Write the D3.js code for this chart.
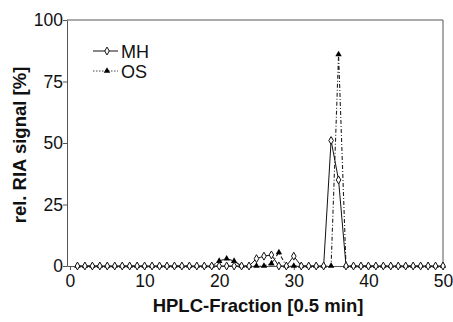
<!DOCTYPE html>
<html>
<head>
<meta charset="utf-8">
<script src="https://cdn.jsdelivr.net/npm/d3@7"></script>
<style>
  body { margin: 0; background: #fff; }
  svg { font-family: "Liberation Sans", Arial, sans-serif; }
</style>
</head>
<body>
<div id="chart"></div>
<script>
// HPLC fractions (0.5 min each)
const fractions = [1, 2, 3, 4, 5, 6, 7, 8, 9, 10, 11, 12, 13, 14, 15, 16, 17, 18, 19, 20,
  21, 22, 23, 24, 25, 26, 27, 28, 29, 30, 31, 32, 33, 34, 35, 36, 37, 38, 39, 40,
  41, 42, 43, 44, 45, 46, 47, 48, 49, 50];
const mhValues = [0, 0, 0, 0, 0, 0, 0, 0, 0, 0, 0, 0, 0, 0, 0, 0, 0, 0, 0, 0,
  0, 0, 0, 0, 3, 4, 4.5, 0, 0, 4, 0, 0, 0, 0, 51, 35, 0, 0, 0, 0,
  0, 0, 0, 0, 0, 0, 0, 0, 0, 0];
const osValues = [0, 0, 0, 0, 0, 0, 0, 0, 0, 0, 0, 0, 0, 0, 0, 0, 0, 0, 0, 2,
  3, 2, 0, 0, 0, 0, 1, 5.5, 0, 0, 0, 0, 0, 0, 0, 86, 0, 0, 0, 0,
  0, 0, 0, 0, 0, 0, 0, 0, 0, 0];
const xTicks = [0, 10, 20, 30, 40, 50];
const yTicks = [0, 25, 50, 75, 100];

const width = 453, height = 322;
const margin = { top: 20, right: 10, bottom: 56, left: 67 };

const svg = d3.select('#chart').append('svg')
  .attr('width', width)
  .attr('height', height);

const x = d3.scaleLinear().domain([-0.4, 50]).range([margin.left, 443]);
const y = d3.scaleLinear().domain([0, 100]).range([266, margin.top]);

// frame (top + right)
svg.append('path')
  .attr('d', `M${margin.left},${y(100)}H${x(50)}V${y(0)}`)
  .attr('fill', 'none')
  .attr('stroke', '#555')
  .attr('stroke-width', 1);

const xAxis = svg.append('g')
  .attr('transform', `translate(0, ${y(0)})`)
  .call(d3.axisBottom(x).tickValues(xTicks).tickSize(4).tickSizeOuter(0));
const yAxis = svg.append('g')
  .attr('transform', `translate(${margin.left}, 0)`)
  .call(d3.axisLeft(y).tickValues(yTicks).tickSize(4).tickSizeOuter(0));

[xAxis, yAxis].forEach(a => {
  a.select('.domain').attr('stroke', '#555');
  a.selectAll('.tick line').attr('stroke', '#555');
  a.selectAll('.tick text')
    .attr('fill', '#111')
    .style('font-size', '17.5px')
    .style('font-family', '"Liberation Sans", Arial, sans-serif');
});
xAxis.selectAll('.tick text').attr('dy', '0.9em').attr('y', 5);
yAxis.selectAll('.tick text').attr('x', -4);

const mh = fractions.map((f, i) => [f, mhValues[i]]);
const os = fractions.map((f, i) => [f, osValues[i]]);
const line = d3.line().x(d => x(d[0])).y(d => y(d[1]));

// OS series (dash-dot, filled triangles)
svg.append('path')
  .datum(os)
  .attr('d', line)
  .attr('fill', 'none')
  .attr('stroke', '#222')
  .attr('stroke-width', 1.1)
  .attr('stroke-dasharray', '4,2,1,2');

const tri = d3.symbol().type(d3.symbolTriangle).size(18);
svg.selectAll('.os')
  .data(os)
  .enter().append('path')
  .attr('class', 'os')
  .attr('d', tri)
  .attr('transform', d => `translate(${x(d[0])},${y(d[1])})`)
  .attr('fill', '#000');

// MH series (solid, open diamonds)
svg.append('path')
  .datum(mh)
  .attr('d', line)
  .attr('fill', 'none')
  .attr('stroke', '#111')
  .attr('stroke-width', 1);

const dia = d3.symbol().type(d3.symbolDiamond).size(18);
svg.selectAll('.mh')
  .data(mh)
  .enter().append('path')
  .attr('class', 'mh')
  .attr('d', dia)
  .attr('transform', d => `translate(${x(d[0])},${y(d[1])})`)
  .attr('fill', '#fff')
  .attr('stroke', '#111')
  .attr('stroke-width', 1);

// legend
const legend = svg.append('g').attr('transform', 'translate(93, 51)');
legend.append('line').attr('x1', 0).attr('x2', 25).attr('y1', 0).attr('y2', 0)
  .attr('stroke', '#111');
legend.append('path').attr('d', dia).attr('transform', 'translate(14,0)')
  .attr('fill', '#fff').attr('stroke', '#111');
legend.append('text').attr('x', 28).attr('y', 6.5).text('MH')
  .style('font-size', '18px').attr('fill', '#111');
legend.append('line').attr('x1', 0).attr('x2', 25).attr('y1', 20).attr('y2', 20)
  .attr('stroke', '#444').attr('stroke-dasharray', '1.5,1.5');
legend.append('path').attr('d', tri).attr('transform', 'translate(14,20)')
  .attr('fill', '#000');
legend.append('text').attr('x', 28).attr('y', 26.5).text('OS')
  .style('font-size', '18px').attr('fill', '#111');

// axis titles
svg.append('text')
  .attr('x', 258)
  .attr('y', 312)
  .attr('text-anchor', 'middle')
  .style('font-size', '18.5px')
  .style('font-weight', 'bold')
  .attr('fill', '#111')
  .text('HPLC-Fraction [0.5 min]');

svg.append('text')
  .attr('transform', `translate(26, 145) rotate(-90)`)
  .attr('text-anchor', 'middle')
  .style('font-size', '18.5px')
  .style('font-weight', 'bold')
  .attr('fill', '#111')
  .text('rel. RIA signal [%]');
</script>
</body>
</html>
